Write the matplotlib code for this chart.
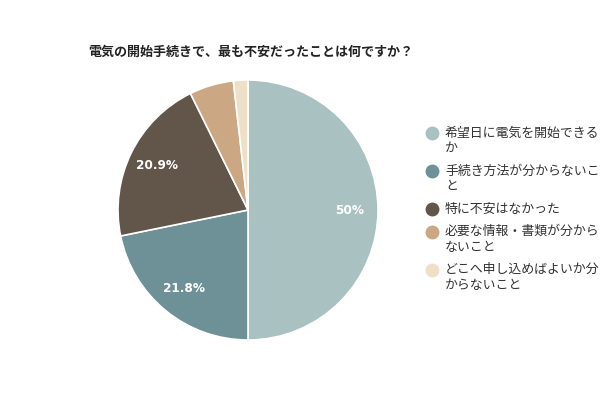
import matplotlib
matplotlib.use("Agg")
import matplotlib.pyplot as plt
import numpy as np

plt.rcParams['font.family'] = ['Noto Sans CJK JP', 'DejaVu Sans']

# ---------------- DATA ----------------
title = "電気の開始手続きで、最も不安だったことは何ですか？"
labels = [
    "希望日に電気を開始できる\nか",
    "手続き方法が分からないこ\nと",
    "特に不安はなかった",
    "必要な情報・書類が分から\nないこと",
    "どこへ申し込めばよいか分\nからないこと",
]
values = [50.0, 21.8, 20.9, 5.5, 1.8]
pct_labels = ["50%", "21.8%", "20.9%", "", ""]
colors = ["#a9c1c1", "#6d9196", "#62554a", "#cba883", "#ede0c6"]
# --------------------------------------

fig = plt.figure(figsize=(6, 4), dpi=100)
fig.patch.set_facecolor("white")

# pie
ax = fig.add_axes([118 / 600, 60 / 400, 260 / 600, 260 / 400])
wedges, _ = ax.pie(values, colors=colors, startangle=90, counterclock=False,
                   wedgeprops=dict(edgecolor="white", linewidth=1.2))
ax.set_aspect("equal")
ax.set_xlim(-1, 1)
ax.set_ylim(-1, 1)

cum = np.cumsum([0] + values[:-1])
for v, c0, txt in zip(values, cum, pct_labels):
    if not txt:
        continue
    mid = np.deg2rad(90 - 360 * (c0 + v / 2) / 100)
    r = 0.78
    ax.text(r * np.cos(mid), r * np.sin(mid), txt, ha="center", va="center",
            color="white", fontsize=8.7, fontweight="bold", family=["DejaVu Sans"])

# title
fig.text(88 / 600, 1 - 52 / 400, title, ha="left", va="center",
         fontsize=9.4, fontweight="bold", color="#222222")

# legend (drawn by hand to match the wrapped layout)
lax = fig.add_axes([0, 0, 1, 1])
lax.set_xlim(0, 600)
lax.set_ylim(400, 0)
lax.axis("off")
y = 133
line_h = 15.5
for lab, col in zip(labels, colors):
    lines = lab.split("\n")
    lax.plot([432], [y], marker="o", markersize=10, color=col,
             markeredgewidth=0)
    for i, ln in enumerate(lines):
        lax.text(445, y + i * line_h, ln, ha="left", va="center",
                 fontsize=9.3, color="#333333")
    y += len(lines) * line_h + 7

fig.savefig("out.png", dpi=100, facecolor="white")
